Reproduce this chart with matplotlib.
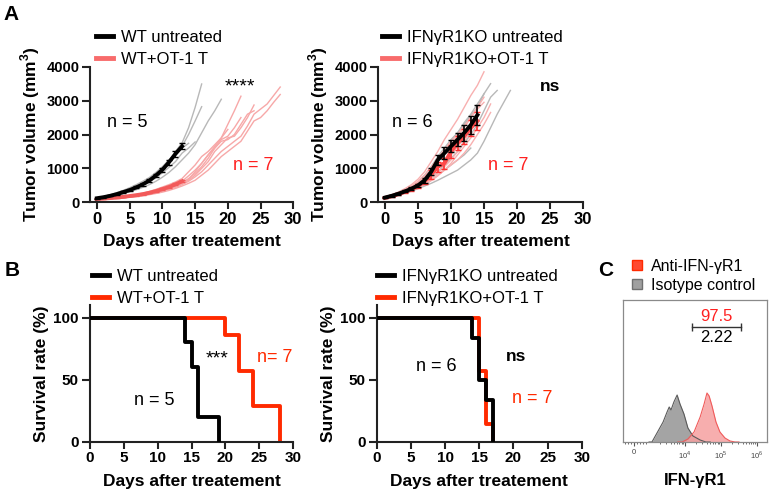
import numpy as np
import matplotlib.pyplot as plt
from matplotlib.lines import Line2D
from matplotlib.patches import Patch

plt.rcParams['font.family'] = ['Liberation Sans', 'DejaVu Sans']
plt.rcParams['mathtext.fontset'] = 'custom'
plt.rcParams['mathtext.rm'] = 'Liberation Sans'
plt.rcParams['mathtext.bf'] = 'Liberation Sans:bold'

# ---------------- A (left): WT tumour growth, one list per mouse, day 0,1,2,...
wt_untreated = [
    [130, 160, 200, 250, 310, 380, 460, 560, 680, 820, 1000, 1200, 1500, 1750, 2200, 2800, 3490],
    [120, 150, 190, 240, 300, 370, 440, 530, 640, 780, 950, 1150, 1400, 1650, 2000, 2400, 2820],
    [110, 140, 170, 210, 260, 310, 370, 440, 520, 620, 740, 880, 1050, 1250, 1450, 1700, 2050, 2400, 2700, 3040],
    [130, 170, 220, 280, 350, 430, 520, 620, 730, 880, 1050, 1250, 1450, 1600, 1740],
    [120, 150, 190, 240, 290, 350, 420, 500, 600, 720, 870, 1030, 1200, 1450, 1600, 1780],
]
wt_ot1 = [
    [100, 105, 115, 130, 150, 170, 200, 230, 270, 320, 380, 450, 530, 620, 780, 950, 1150, 1400, 1650, 1900, 2150],
    [110, 120, 130, 150, 170, 200, 230, 270, 320, 380, 450, 520, 600, 700, 900, 1100, 1350, 1500, 1700, 1900, 2300, 2700, 3130],
    [100, 110, 120, 135, 150, 170, 200, 230, 270, 320, 370, 430, 500, 580, 700, 850, 1050, 1300, 1600, 1850, 1950, 2200, 2500],
    [90, 100, 110, 125, 140, 160, 185, 215, 250, 290, 340, 400, 470, 560, 650, 800, 1000, 1200, 1500, 1700, 1900, 1950, 2200, 2500, 2870],
    [100, 110, 120, 130, 150, 170, 190, 220, 260, 300, 350, 410, 480, 560, 680, 900, 1150, 1400, 1600, 1800, 1850, 2000, 2300, 2600, 2700],
    [100, 105, 115, 125, 140, 160, 180, 210, 240, 280, 330, 380, 440, 520, 620, 750, 900, 1100, 1300, 1500, 1650, 1800, 1950, 2250, 2600, 2750, 2900, 3150, 3400],
    [95, 100, 110, 120, 135, 150, 170, 195, 225, 260, 300, 350, 410, 480, 560, 650, 800, 950, 1150, 1350, 1500, 1650, 1800, 2100, 2400, 2500, 2700, 2950, 3180],
]
wt_untreated_mean = [120, 150, 190, 240, 300, 360, 440, 530, 640, 790, 960, 1180, 1430, 1650]
wt_untreated_sem = [10, 12, 15, 18, 22, 25, 30, 35, 40, 50, 60, 70, 80, 90]
wt_ot1_mean = [100, 110, 125, 140, 160, 185, 210, 240, 280, 330, 390, 450, 530, 620]
wt_ot1_sem = [5, 6, 7, 8, 9, 10, 12, 14, 16, 18, 20, 22, 25, 28]

# ---------------- A (right): IFNgR1KO tumour growth
ko_untreated = [
    [150, 180, 220, 270, 330, 400, 480, 560, 650, 750, 850, 950, 1100, 1250, 1450, 1800, 2200, 2600, 2950, 3300],
    [150, 200, 250, 300, 370, 450, 550, 700, 900, 1100, 1300, 1500, 1750, 2000, 2300, 2700, 3100, 3300],
    [160, 210, 270, 350, 450, 600, 800, 1050, 1350, 1600, 1850, 2050, 2300, 2550, 2800, 3200, 3500],
    [140, 190, 250, 320, 400, 520, 700, 950, 1250, 1500, 1800, 2050, 2350, 2600, 2900, 3200],
    [150, 200, 260, 330, 410, 500, 620, 780, 1000, 1200, 1400, 1650, 1900, 2150, 2400],
    [130, 170, 220, 280, 350, 430, 520, 650, 800, 950, 1100, 1250, 1400, 1600],
]
ko_ot1 = [
    [160, 220, 300, 400, 520, 680, 900, 1200, 1500, 1850, 2150, 2450, 2800, 3150, 3450, 3850],
    [150, 200, 270, 350, 450, 580, 750, 950, 1200, 1450, 1700, 1950, 2200, 2500, 2800, 3100],
    [140, 190, 250, 320, 400, 500, 620, 780, 980, 1200, 1400, 1650, 1900, 2200, 2550],
    [130, 170, 220, 280, 350, 430, 530, 650, 800, 950, 1100, 1250, 1450, 1700, 2000, 2300, 2650],
    [150, 210, 280, 370, 480, 620, 800, 1050, 1300, 1550, 1800, 2000, 2250, 2500, 2750, 2950],
    [140, 180, 230, 290, 360, 450, 560, 700, 870, 1050, 1250, 1500, 1800, 2100, 2400],
    [120, 160, 210, 270, 340, 420, 520, 640, 780, 950, 1150, 1400, 1650, 1900, 2200, 2500, 2900],
]
ko_untreated_mean = [140, 190, 250, 320, 400, 500, 650, 900, 1250, 1450, 1650, 1850, 2050, 2280, 2575]
ko_untreated_sem = [15, 20, 25, 30, 40, 50, 70, 100, 150, 170, 180, 200, 230, 260, 300]
ko_ot1_mean = [130, 180, 240, 310, 380, 480, 620, 820, 1050, 1150, 1500, 1750, 1950, 2200, 2400]
ko_ot1_sem = [15, 20, 25, 30, 40, 55, 80, 120, 150, 170, 180, 200, 220, 240, 260]

# ---------------- B: survival (Kaplan-Meier)
wt_untr_days = [0, 14, 15, 16, 19]
wt_untr_surv = [100, 80, 60, 20, 0]
wt_ot1_days = [0, 20, 22, 24, 28]
wt_ot1_surv = [100, 85.7, 57.1, 28.6, 0]
ko_untr_days = [0, 14, 15, 16, 17]
ko_untr_surv = [100, 83.3, 50, 33.3, 0]
ko_ot1_days = [0, 15, 16, 17]
ko_ot1_surv = [100, 57.1, 14.3, 0]

# ---------------- C: flow histograms (x in log10 units, height in box units)
iso_log = [3.0, 3.08, 3.22, 3.39, 3.5, 3.56, 3.61, 3.69, 3.78, 3.86, 3.97, 4.08, 4.22, 4.42, 4.58, 4.7]
iso_cnt = [0, 0, 9, 20, 30, 35, 32, 40, 47, 38, 28, 14, 6, 2, 0, 0]
anti_log = [3.8, 3.92, 4.08, 4.25, 4.42, 4.53, 4.61, 4.67, 4.75, 4.86, 4.97, 5.11, 5.25, 5.39, 5.5]
anti_cnt = [0, 0, 3, 10, 25, 38, 49, 46, 36, 20, 10, 4, 1, 0, 0]
gate_log = [4.19, 5.55]
gate_pcts = ['97.5', '2.22']

W, H = 771, 497
fig = plt.figure(figsize=(W / 100, H / 100), dpi=100)


def px_axes(l, t, r, b):
    return fig.add_axes([l / W, 1 - b / H, (r - l) / W, (b - t) / H])


def style(ax, xlabel, ylabel, xsize, ysize, xpad):
    for s in ['top', 'right']:
        ax.spines[s].set_visible(False)
    for s in ['left', 'bottom']:
        ax.spines[s].set_linewidth(1.5)
        ax.spines[s].set_color('#222222')
    ax.tick_params(axis='x', width=1.5, length=5, labelsize=xsize, color='#222222', pad=2)
    ax.tick_params(axis='y', width=1.5, length=6, labelsize=ysize, color='#222222', pad=2)
    for lab in ax.get_xticklabels() + ax.get_yticklabels():
        lab.set_fontweight('bold')
    ax.set_xlabel(xlabel, fontsize=12.5, fontweight='bold', labelpad=xpad)
    ax.set_ylabel(ylabel, fontsize=12.5, fontweight='bold', labelpad=3)


def legend(ax, handles, labels, x, y):
    ax.legend(handles, labels, loc='upper left', bbox_to_anchor=(x / W, 1 - y / H),
              bbox_transform=fig.transFigure, frameon=False, fontsize=12,
              handlelength=1.0, handletextpad=0.5, labelspacing=0.4,
              borderpad=0, borderaxespad=0)


def growth(ax, singles_a, singles_b, mean_a, sem_a, mean_b, sem_b, col_b_light, col_b, ecol_b):
    for y in singles_a:
        ax.plot(range(len(y)), y, color='#b8b8b8', lw=1.0, zorder=2)
    for y in singles_b:
        ax.plot(range(len(y)), y, color=col_b_light, lw=1.0, zorder=2)
    ax.errorbar(range(len(mean_b)), mean_b, yerr=sem_b, color=col_b, ecolor=ecol_b,
                lw=2.8, elinewidth=1.2, capsize=2, zorder=3)
    ax.errorbar(range(len(mean_a)), mean_a, yerr=sem_a, color='black', ecolor='black',
                lw=2.8, elinewidth=1.2, capsize=2, zorder=4)
    ax.set_xlim(-1, 30)
    ax.set_ylim(0, 4000)
    ax.set_xticks(range(0, 31, 5))
    ax.set_yticks(range(0, 4001, 1000))


# ---------- A left
ax1 = px_axes(90.4, 66.7, 293.3, 202.3)
growth(ax1, wt_untreated, wt_ot1, wt_untreated_mean, wt_untreated_sem,
       wt_ot1_mean, wt_ot1_sem, '#f7a8a8', '#f25a5a', '#f25a5a')
style(ax1, 'Days after treatement', r'Tumor volume (mm$^{\mathbf{3}}$)', 12, 10.5, 5)
ax1.text(4.6, 2340, 'n = 5', fontsize=13, ha='center', va='center')
ax1.text(23.8, 1100, 'n = 7', fontsize=13, ha='center', va='center', color='#ff2020')
ax1.text(21.9, 3400, '****', fontsize=14, ha='center', va='center')
legend(ax1, [Line2D([], [], color='black', lw=3.5), Line2D([], [], color='#f86b6b', lw=3.5)],
       ['WT untreated', 'WT+OT-1 T'], 96, 30)

# ---------- A right
ax2 = px_axes(378.4, 66.7, 583, 202.3)
growth(ax2, ko_untreated, ko_ot1, ko_untreated_mean, ko_untreated_sem,
       ko_ot1_mean, ko_ot1_sem, '#f8b0b0', '#ff4a4a', '#ff3030')
style(ax2, 'Days after treatement', r'Tumor volume (mm$^{\mathbf{3}}$)', 12, 10.5, 5)
ax2.text(4.1, 2340, 'n = 6', fontsize=13, ha='center', va='center')
ax2.text(18.6, 1100, 'n = 7', fontsize=13, ha='center', va='center', color='#ff2020')
ax2.text(25.0, 3430, 'ns', fontsize=12.5, fontweight='bold', ha='center', va='center')
legend(ax2, [Line2D([], [], color='black', lw=3.5), Line2D([], [], color='#f86b6b', lw=3.5)],
       ['IFNγR1KO untreated', 'IFNγR1KO+OT-1 T'], 382, 30)


# ---------- B
def survival(ax, d_a, s_a, d_b, s_b):
    ax.step(d_b, s_b, where='post', color='#ff2a00', lw=2.8, zorder=2)
    ax.step(d_a, s_a, where='post', color='black', lw=2.8, zorder=3)
    ax.set_xlim(0, 30)
    ax.set_ylim(0, 110)
    ax.set_xticks(range(0, 31, 5))
    ax.set_yticks([0, 50, 100])


ax3 = px_axes(89.7, 305.3, 293.3, 441.7)
survival(ax3, wt_untr_days, wt_untr_surv, wt_ot1_days, wt_ot1_surv)
style(ax3, 'Days after treatement', 'Survival rate (%)', 11, 11, 6)
ax3.text(18.8, 67, '***', fontsize=14, ha='center', va='center')
ax3.text(27.3, 68, 'n= 7', fontsize=13, ha='center', va='center', color='#ff2a00')
ax3.text(9.5, 33.6, 'n = 5', fontsize=13, ha='center', va='center')
legend(ax3, [Line2D([], [], color='black', lw=3.5), Line2D([], [], color='#ff2a00', lw=3.5)],
       ['WT untreated', 'WT+OT-1 T'], 92, 269)

ax4 = px_axes(376.9, 305.3, 581.7, 441.7)
survival(ax4, ko_untr_days, ko_untr_surv, ko_ot1_days, ko_ot1_surv)
style(ax4, 'Days after treatement', 'Survival rate (%)', 11, 11, 6)
ax4.text(8.7, 60.5, 'n = 6', fontsize=13, ha='center', va='center')
ax4.text(20.4, 69, 'ns', fontsize=12.5, fontweight='bold', ha='center', va='center')
ax4.text(22.7, 34.5, 'n = 7', fontsize=13, ha='center', va='center', color='#ff2a00')
legend(ax4, [Line2D([], [], color='black', lw=3.5), Line2D([], [], color='#ff2a00', lw=3.5)],
       ['IFNγR1KO untreated', 'IFNγR1KO+OT-1 T'], 377, 269)

# ---------- C
ax5 = px_axes(623, 300, 767, 442)
ax5.set_xscale('symlog', linthresh=1000, linscale=0.378)
iso_x = [10 ** v for v in iso_log]
anti_x = [10 ** v for v in anti_log]
ax5.fill_between(iso_x, iso_cnt, color='#9a9a9a', alpha=0.9, lw=0)
ax5.plot(iso_x, iso_cnt, color='#5a5a5a', lw=0.8)
ax5.fill_between(anti_x, anti_cnt, color='#f6a0a0', alpha=0.85, lw=0)
ax5.plot(anti_x, anti_cnt, color='#f05a5a', lw=0.8)
ax5.set_xlim(-726, 1.9e6)
ax5.set_ylim(0, 142)
gx = [10 ** v for v in gate_log]
ax5.plot(gx, [115, 115], color='#333333', lw=1.0, marker='|', ms=6, mew=1.0)
gmid = 10 ** (sum(gate_log) / 2)
ax5.text(gmid, 125.5, gate_pcts[0], color='#ff2020', fontsize=12, ha='center', va='center')
ax5.text(gmid, 104, gate_pcts[1], color='black', fontsize=12, ha='center', va='center')
ax5.set_yticks([])
ax5.set_xticks([0, 1e4, 1e5, 1e6])
ax5.set_xticklabels(['0', '$10^4$', '$10^5$', '$10^6$'], fontsize=5.5, color='#444444')
minors = [-600, -400, -200, 200, 400, 600, 800]
for dec in [1e3, 1e4, 1e5]:
    minors += [k * dec for k in range(2, 10)]
ax5.set_xticks(minors, minor=True)
ax5.tick_params(axis='x', which='major', length=3, width=0.8, color='#555555', pad=2)
ax5.tick_params(axis='x', which='minor', length=1.5, width=0.6, color='#555555')
for s in ax5.spines.values():
    s.set_color('#8a8a8a')
    s.set_linewidth(0.9)
ax5.set_xlabel('IFN-γR1', fontsize=12, fontweight='bold', labelpad=9)
ax5.legend([Patch(facecolor='#ff4a30', edgecolor='#ff2a00', lw=1),
            Patch(facecolor='#a0a0a0', edgecolor='#707070', lw=1)],
           ['Anti-IFN-γR1', 'Isotype control'], loc='upper left',
           bbox_to_anchor=(632 / W, 1 - 259 / H), bbox_transform=fig.transFigure,
           frameon=False, fontsize=11.5, handlelength=0.6, handleheight=0.6,
           handletextpad=0.6, labelspacing=0.25, borderpad=0, borderaxespad=0)

# panel letters
fig.text(3 / W, 1 - 14 / H, 'A', fontsize=15, fontweight='bold', va='center')
fig.text(5 / W, 1 - 270 / H, 'B', fontsize=15, fontweight='bold', va='center')
fig.text(598 / W, 1 - 270 / H, 'C', fontsize=15, fontweight='bold', va='center')

fig.savefig('out.png', dpi=100)
